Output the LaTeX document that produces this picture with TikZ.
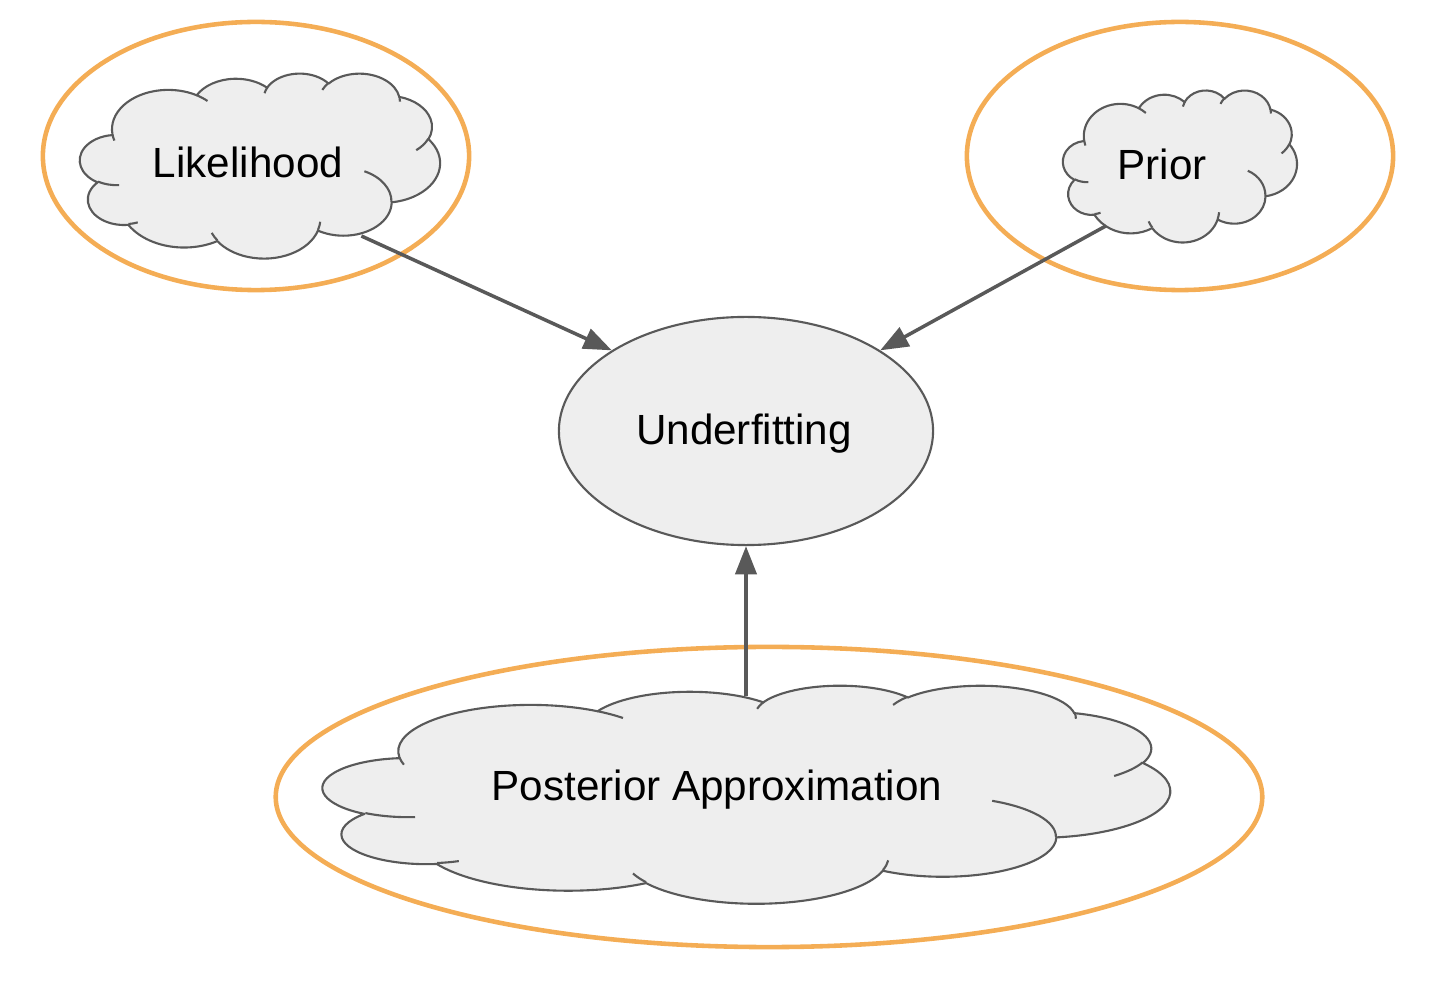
\documentclass[tikz,border=0pt]{standalone}
\usepackage{fontspec}
\setmainfont{Liberation Sans}
\usetikzlibrary{shapes.geometric,arrows.meta}
\definecolor{cfill}{HTML}{EEEEEE}
\definecolor{cline}{HTML}{595959}
\definecolor{corange}{HTML}{F4AD55}
\tikzset{
  ring/.style={draw=corange,line width=1.3pt,ellipse,inner sep=0pt},
  cloudline/.style={draw=cline,line width=0.6pt,line join=round},
  hull/.style={ellipse,inner sep=0pt},
  oval/.style={ellipse,draw=cline,fill=cfill,line width=0.6pt,inner sep=0pt},
  lbl/.style={font=\fontsize{12}{14}\selectfont,inner sep=0pt},
  conn/.style={draw=cline,line width=1pt,-{Triangle[length=8pt,width=6pt]}}
}
% elliptical arc given with visual start angle and sweep (DrawingML convention)
\newcommand\garc[4]{arc[start angle={atan2(#1*sin(#3),#2*cos(#3))},
  delta angle={mod(atan2(#1*sin(#3+#4),#2*cos(#3+#4))-atan2(#1*sin(#3),#2*cos(#3))+720,360)},
  x radius=#1, y radius=#2]}
% cloud in box: left, top, width, height (pixels)
\newcommand\gcloud[4]{%
  \pgfmathsetmacro\gcx{#3/43.2*0.01}%
  \pgfmathsetmacro\gcy{-#4/43.2*0.01}%
  \begin{scope}[shift={(#1,#2)},x=\gcx cm,y=\gcy cm]
  \path[cloudline,fill=cfill] (3.900,14.370)
    \garc{6.753}{9.190}{-190.4875}{123.7805}
    \garc{5.333}{7.267}{-144.1024}{89.9452}
    \garc{4.365}{5.945}{-145.8079}{99.7230}
    \garc{4.857}{6.595}{-130.9861}{117.2417}
    \garc{5.333}{7.273}{-78.7089}{109.0269}
    \garc{6.775}{9.220}{-46.2673}{130.2690}
    \garc{5.785}{7.867}{0.6250}{114.0333}
    \garc{6.752}{9.215}{22.4516}{115.1726}
    \garc{7.720}{10.543}{66.2426}{75.7110}
    \garc{4.360}{5.918}{-274.9421}{146.7356}
    \garc{4.345}{5.945}{-246.8285}{152.5189} -- cycle;
  \path[cloudline]
    (4.693,26.177) \garc{4.345}{5.945}{86.7420}{26.4295}
    (6.928,34.899) \garc{4.360}{5.918}{73.6105}{11.4475}
    (16.478,39.090) \garc{6.752}{9.215}{137.6242}{14.0811}
    (28.827,34.751) \garc{6.752}{9.215}{6.4533}{15.9984}
    (34.129,22.954) \garc{5.785}{7.867}{-70.2924}{70.9174}
    (41.798,15.354) \garc{5.333}{7.273}{30.3180}{27.7515}
    (38.324,5.426) \garc{4.857}{6.595}{-13.7443}{14.8589}
    (29.078,3.952) \garc{4.857}{6.595}{-149.1815}{18.1954}
    (22.141,4.720) \garc{4.365}{5.945}{-163.4943}{17.6864}
    (14.000,5.192) \garc{6.753}{9.190}{-66.7070}{12.3194}
    (4.127,15.789) \garc{6.753}{9.190}{157.6544}{11.8582};
  \end{scope}}
\begin{document}
\begin{tikzpicture}[x=0.01cm,y=-0.01cm]
\useasboundingbox (0,0) rectangle (1444,994);
% orange rings
\node[ring,minimum width=4.26cm,minimum height=2.68cm] (r1) at (256,156) {};
\node[ring,minimum width=4.26cm,minimum height=2.68cm] (r2) at (1180,156) {};
\node[ring,minimum width=9.86cm,minimum height=3.00cm] (r3) at (769,797) {};
% clouds
\gcloud{80}{73}{360}{185}
\gcloud{1063}{90}{234}{152}
\gcloud{323}{685}{847}{218}
\node[hull,minimum width=3.60cm,minimum height=1.70cm] (lk) at (260,165) {};
\node[hull,minimum width=2.34cm,minimum height=1.52cm] (pr) at (1180,166) {};
\node[hull,minimum width=8.47cm,minimum height=2.18cm] (pc) at (746,794) {};
% underfitting
\node[oval,minimum width=3.74cm,minimum height=2.28cm] (uf) at (746,431) {};
% labels
\node[lbl] (tlk) at (248,162) {Likelihood};
\node[lbl] (tpr) at (1162,164) {Prior};
\node[lbl] (tuf) at (744,434) {Underfitting};
\node[lbl] (tpc) at (717,790) {Posterior Approximation};
% connectors
\draw[conn] (lk.-35) -- (uf.149);
\draw[conn] (pr.-141) -- (uf.31);
\draw[conn,shorten <=-3.4pt] (pc.north) -- (uf.south);
\end{tikzpicture}
\end{document}
